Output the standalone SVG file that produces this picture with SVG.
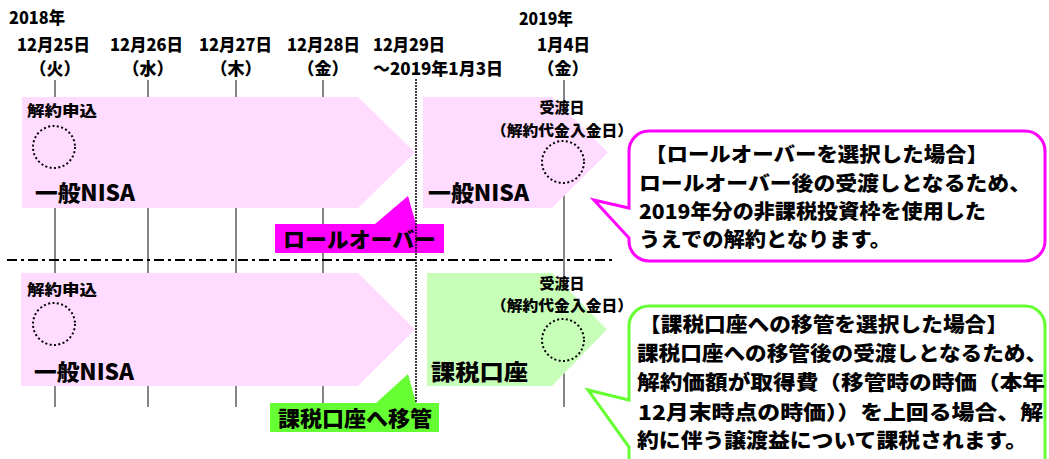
<svg xmlns="http://www.w3.org/2000/svg" width="1049" height="459" viewBox="0 0 1049 459">
<style>
text{font-family:"Noto Sans CJK JP","Noto Sans CJK SC",sans-serif;font-weight:900;fill:#000}
.d{font-size:17px}
.m{text-anchor:middle}
.s{font-size:15px}
.r{font-size:15px}
.big{font-size:22px}
.c{font-size:20px}
.lab{font-size:21px}
.tick{stroke:#858585;stroke-width:2;fill:none}
.pink{fill:#FFDBFF}
.green{fill:#C8FFB8}
.dot{fill:none;stroke:#000;stroke-width:2;stroke-dasharray:2 2.4}
</style>
<rect width="1049" height="459" fill="#fff"/>

<g id="dates">
<text class="d" x="9" y="24" textLength="56" lengthAdjust="spacingAndGlyphs">2018年</text>
<text class="d" x="17" y="51" textLength="73" lengthAdjust="spacingAndGlyphs">12月25日</text>
<text class="d m" x="55" y="75">（火）</text>
<text class="d" x="110" y="51" textLength="73" lengthAdjust="spacingAndGlyphs">12月26日</text>
<text class="d m" x="148" y="75">（水）</text>
<text class="d" x="199" y="51" textLength="73" lengthAdjust="spacingAndGlyphs">12月27日</text>
<text class="d m" x="236" y="75">（木）</text>
<text class="d" x="287" y="51" textLength="73" lengthAdjust="spacingAndGlyphs">12月28日</text>
<text class="d m" x="323" y="75">（金）</text>
<text class="d" x="373" y="51" textLength="72" lengthAdjust="spacingAndGlyphs">12月29日</text>
<text class="d" x="373" y="75" textLength="130" lengthAdjust="spacingAndGlyphs">～2019年1月3日</text>
<text class="d" x="519" y="25" textLength="54" lengthAdjust="spacingAndGlyphs">2019年</text>
<text class="d" x="537" y="51" textLength="53" lengthAdjust="spacingAndGlyphs">1月4日</text>
<text class="d m" x="563" y="75">（金）</text>
</g>

<g id="ticks">
<line class="tick" x1="55" y1="80" x2="55" y2="407"/>
<line class="tick" x1="148" y1="80" x2="148" y2="407"/>
<line class="tick" x1="236" y1="80" x2="236" y2="407"/>
<line class="tick" x1="323" y1="80" x2="323" y2="407"/>
<line class="tick" x1="564" y1="80" x2="564" y2="407"/>
</g>

<g id="separator">
<line x1="7" y1="260" x2="612" y2="260" stroke="#000" stroke-width="2" stroke-dasharray="10 4 3 4"/>
</g>

<g id="top-left-arrow">
<polygon class="pink" points="22,97 358,97 415,152.5 358,208 22,208"/>
<text class="s" x="27" y="116" textLength="70" lengthAdjust="spacingAndGlyphs">解約申込</text>
<circle class="dot" cx="54" cy="147" r="21"/>
<text class="big" x="35" y="201" textLength="100" lengthAdjust="spacingAndGlyphs">一般NISA</text>
</g>

<g id="top-right-arrow">
<polygon class="pink" points="423,97 552,97 608,152.5 552,208 423,208"/>
<text class="r m" x="562" y="113">受渡日</text>
<text class="r" x="491" y="136" textLength="142" lengthAdjust="spacingAndGlyphs">（解約代金入金日）</text>
<circle class="dot" cx="563" cy="162" r="21"/>
<text class="big" x="428" y="201" textLength="101" lengthAdjust="spacingAndGlyphs">一般NISA</text>
</g>

<g id="bottom-left-arrow">
<polygon class="pink" points="21,273 358,273 415,329.5 358,386 21,386"/>
<text class="s" x="27" y="295" textLength="70" lengthAdjust="spacingAndGlyphs">解約申込</text>
<circle class="dot" cx="54" cy="324" r="21"/>
<text class="big" x="34" y="380" textLength="100" lengthAdjust="spacingAndGlyphs">一般NISA</text>
</g>

<g id="bottom-right-arrow">
<polygon class="green" points="427,273 552,273 607,329.5 552,386 427,386"/>
<text class="r m" x="562" y="289">受渡日</text>
<text class="r" x="491" y="311" textLength="142" lengthAdjust="spacingAndGlyphs">（解約代金入金日）</text>
<circle class="dot" cx="563" cy="340" r="21"/>
<text class="big" x="431" y="380" textLength="97" lengthAdjust="spacingAndGlyphs">課税口座</text>
</g>

<g id="rollover-label">
<polygon points="275,224 375,224 408,196 416,224 444,224 444,253 275,253" fill="#FF00FF"/>
<text class="lab" x="283" y="247" textLength="153" lengthAdjust="spacingAndGlyphs">ロールオーバー</text>
</g>

<g id="transfer-label">
<polygon points="270,403 376,403 408,374 416,403 439,403 439,432 270,432" fill="#66FF33"/>
<text class="lab" x="278" y="426" textLength="154" lengthAdjust="spacingAndGlyphs">課税口座へ移管</text>
</g>

<g id="connectors">
<line x1="416" y1="79" x2="416" y2="403" stroke="#000" stroke-width="1.5" stroke-dasharray="2 1"/>
</g>

<g id="rollover-callout">
<path d="M649,131 H1025 A20,20 0 0 1 1045,151 V241 A20,20 0 0 1 1025,261 H649 A20,20 0 0 1 629,241 V238 L594,200 L629,208 V151 A20,20 0 0 1 649,131 Z" fill="#fff" stroke="#FF00FF" stroke-width="3"/>
<text class="c" x="645" y="162" textLength="343" lengthAdjust="spacingAndGlyphs">【ロールオーバーを選択した場合】</text>
<text class="c" x="639" y="191" textLength="392" lengthAdjust="spacingAndGlyphs">ロールオーバー後の受渡しとなるため、</text>
<text class="c" x="639" y="219" textLength="347" lengthAdjust="spacingAndGlyphs">2019年分の非課税投資枠を使用した</text>
<text class="c" x="639" y="247" textLength="252" lengthAdjust="spacingAndGlyphs">うえでの解約となります。</text>
</g>

<g id="transfer-callout">
<path d="M649,306 H1025 A20,20 0 0 1 1045,326 V460 A20,20 0 0 1 1025,480 H649 A20,20 0 0 1 629,460 V447 L588,390 L629,400 V326 A20,20 0 0 1 649,306 Z" fill="#fff" stroke="#66FF33" stroke-width="3"/>
<text class="c" x="639" y="332" textLength="369" lengthAdjust="spacingAndGlyphs">【課税口座への移管を選択した場合】</text>
<text class="c" x="637" y="361" textLength="410" lengthAdjust="spacingAndGlyphs">課税口座への移管後の受渡しとなるため、</text>
<text class="c" x="637" y="390" textLength="408" lengthAdjust="spacingAndGlyphs">解約価額が取得費（移管時の時価（本年</text>
<text class="c" x="638" y="420" textLength="405" lengthAdjust="spacingAndGlyphs">12月末時点の時価））を上回る場合、解</text>
<text class="c" x="637" y="448" textLength="390" lengthAdjust="spacingAndGlyphs">約に伴う譲渡益について課税されます。</text>
</g>
</svg>
